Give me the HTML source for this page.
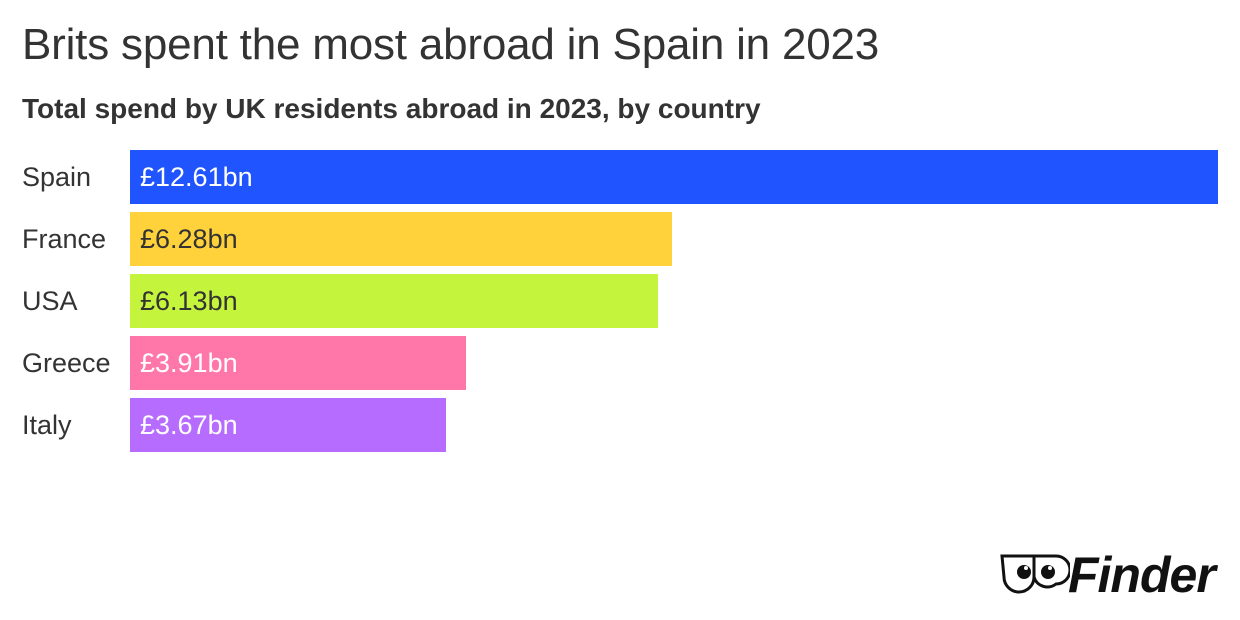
<!DOCTYPE html>
<html><head><style>
body{margin:0;width:1240px;height:620px;background:#fff;font-family:"Liberation Sans",sans-serif;color:#333;position:relative;overflow:hidden}
.t{position:absolute;left:22px;top:20px;font-size:44px;color:#333;letter-spacing:-0.2px}
.s{position:absolute;left:22px;top:93px;font-size:28px;font-weight:bold;color:#333;letter-spacing:0px}
.l{position:absolute;left:22px;font-size:27px;color:#333;line-height:54px}
.b{position:absolute;left:130px;height:54px;font-size:27px;line-height:54px;padding-left:10px;box-sizing:border-box}
</style></head><body>
<div class="t">Brits spent the most abroad in Spain in 2023</div>
<div class="s">Total spend by UK residents abroad in 2023, by country</div>
<div class="l" style="top:150px">Spain</div>
<div class="l" style="top:212px">France</div>
<div class="l" style="top:274px">USA</div>
<div class="l" style="top:336px">Greece</div>
<div class="l" style="top:398px">Italy</div>
<div class="b" style="top:150px;width:1088px;background:#1f54fe;color:#fff">£12.61bn</div>
<div class="b" style="top:212px;width:542px;background:#ffd23b;color:#333">£6.28bn</div>
<div class="b" style="top:274px;width:528px;background:#c5f43d;color:#333">£6.13bn</div>
<div class="b" style="top:336px;width:336px;background:#ff77a8;color:#fff">£3.91bn</div>
<div class="b" style="top:398px;width:316px;background:#b66cff;color:#fff">£3.67bn</div>
<svg style="position:absolute;left:1000px;top:553px" width="70" height="42" viewBox="0 0 70 42">
<path d="M2 3 H34 V24 A15 15 0 0 1 4 24 Z" fill="none" stroke="#111" stroke-width="3"/>
<path d="M34 3 H56 A14 14 0 0 1 56 31 A14 14 0 0 1 34 24" fill="none" stroke="#111" stroke-width="3"/>
<circle cx="24" cy="19" r="7" fill="#111"/><circle cx="48" cy="19" r="7" fill="#111"/>
<circle cx="26" cy="15" r="2" fill="#fff"/><circle cx="50" cy="15" r="2" fill="#fff"/>
</svg>
<div style="position:absolute;left:1068px;top:546px;font-size:50px;font-weight:bold;font-style:italic;color:#111;letter-spacing:-1px">Finder</div>
</body></html>
